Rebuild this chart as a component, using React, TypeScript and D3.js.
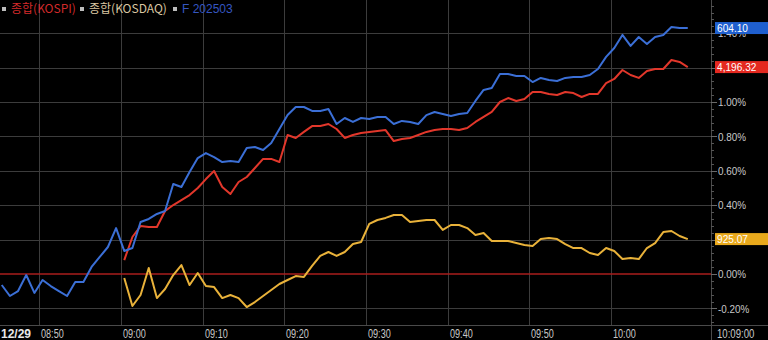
import React from 'react';
import * as d3 from 'd3';

const W = 768;
const H = 340;

// minutes relative to 09:00
const FUT_START = -15;
const IDX_START = 0;

// % change series (per minute)
const FUT = [
  -0.064, -0.128, -0.099, -0.006, -0.11, -0.035, -0.07, -0.099, -0.128, -0.047,
  -0.047, 0.041, 0.099, 0.157, 0.267,
  0.134, 0.151, 0.302, 0.32, 0.349, 0.366, 0.523, 0.506, 0.593, 0.674,
  0.703, 0.68, 0.651, 0.657, 0.651, 0.733, 0.738, 0.721, 0.762, 0.843,
  0.924, 0.971, 0.971, 0.948, 0.948, 0.959, 0.872, 0.907, 0.884, 0.907,
  0.901, 0.913, 0.913, 0.872, 0.89, 0.884, 0.872, 0.924, 0.942, 0.93,
  0.919, 0.93, 0.936, 1.006, 1.07, 1.081, 1.163, 1.163, 1.151, 1.151,
  1.116, 1.14, 1.128, 1.122, 1.14, 1.145, 1.145, 1.157, 1.192, 1.262,
  1.314, 1.39, 1.326, 1.378, 1.337, 1.378, 1.39, 1.436, 1.43, 1.43,
];

const KOSPI = [
  0.081, 0.215, 0.279, 0.273, 0.273, 0.366, 0.401, 0.43, 0.459, 0.5,
  0.552, 0.599, 0.506, 0.465, 0.535, 0.564, 0.616, 0.669, 0.669, 0.651,
  0.808, 0.791, 0.826, 0.86, 0.86, 0.872, 0.843, 0.791, 0.808, 0.82,
  0.826, 0.831, 0.837, 0.773, 0.785, 0.791, 0.808, 0.826, 0.837, 0.843,
  0.843, 0.837, 0.849, 0.884, 0.913, 0.942, 1.0, 1.023, 1.006, 1.017,
  1.058, 1.058, 1.047, 1.041, 1.058, 1.052, 1.029, 1.047, 1.047, 1.11,
  1.134, 1.186, 1.157, 1.14, 1.18, 1.192, 1.192, 1.244, 1.233, 1.203,
];

const KOSDAQ = [
  -0.023, -0.186, -0.122, 0.035, -0.14, -0.087, -0.006, 0.052, -0.064, 0.006,
  -0.07, -0.076, -0.14, -0.122, -0.14, -0.192, -0.163, -0.128, -0.093, -0.058,
  -0.035, -0.012, -0.017, 0.047, 0.105, 0.128, 0.105, 0.128, 0.174, 0.186,
  0.291, 0.314, 0.326, 0.343, 0.343, 0.302, 0.308, 0.314, 0.314, 0.256,
  0.285, 0.285, 0.267, 0.227, 0.238, 0.192, 0.192, 0.192, 0.18, 0.169,
  0.163, 0.203, 0.209, 0.203, 0.174, 0.151, 0.151, 0.122, 0.11, 0.151,
  0.134, 0.087, 0.093, 0.087, 0.151, 0.18, 0.244, 0.25, 0.221, 0.203,
];

const X_TICKS = [-10, 0, 10, 20, 30, 40, 50, 60];
const X_TICK_LABELS = ['08:50', '09:00', '09:10', '09:20', '09:30', '09:40', '09:50', '10:00'];
const Y_TICKS = [-0.2, 0, 0.2, 0.4, 0.6, 0.8, 1.0, 1.2, 1.4];
const Y_TICK_LABELS = ['-0.20%', '0.00%', '0.20%', '0.40%', '0.60%', '0.80%', '1.00%', '1.20%', '1.40%'];
const DATE_LABEL = '12/29';
const END_LABEL = '10:09:00';

const SERIES_NAMES = ['종합(KOSPI)', '종합(KOSDAQ)', 'F 202503'];
const LAST_PRICES = ['4,196.32', '925.07', '604.10'];

const LINE_COLORS = ['#e2372b', '#e9b23a', '#3b6fd6'];
const BOX_COLORS = ['#e4281f', '#e9a91c', '#1f5fcf'];
const LEGEND_COLORS = ['#d22a2a', '#d9c6a0', '#3556c0'];

const PLOT_RIGHT = 711;
const PLOT_BOTTOM = 325;
const POINT_SHIFT = 0.4;

const FONT = "'Liberation Sans', Arial, sans-serif";
const KFONT = "'Noto Sans CJK KR', 'Noto Sans', sans-serif";

function NText(props: {
  x: number;
  y: number;
  s: number;
  size: number;
  fill: string;
  dy?: string;
  weight?: string;
  family?: string;
  children: React.ReactNode;
}) {
  return (
    <text
      transform={`translate(${props.x},${props.y}) scale(${props.s},1)`}
      dy={props.dy}
      fill={props.fill}
      fontSize={props.size}
      fontWeight={props.weight}
      fontFamily={props.family || FONT}
    >
      {props.children}
    </text>
  );
}

export default function App() {
  React.useEffect(() => {
    document.body.style.margin = '0';
    document.body.style.background = '#000';
  }, []);

  const x = d3.scaleLinear().domain([-10, 60]).range([39.3, 611]);
  const y = d3.scaleLinear().domain([0, 1]).range([274, 102]);

  const mk = (vals: number[], start: number) =>
    vals.map((v, i) => [x(start + i + POINT_SHIFT), y(v)] as [number, number]);

  const line = d3.line<[number, number]>();
  const series = [
    { pts: mk(KOSPI, IDX_START), vals: KOSPI },
    { pts: mk(KOSDAQ, IDX_START), vals: KOSDAQ },
    { pts: mk(FUT, FUT_START), vals: FUT },
  ];

  const minorTicks = d3.range(-0.28, 1.62, 0.04);
  const legendX = [2, 80, 173];

  return (
    <svg width={W} height={H} style={{ position: 'fixed', left: 0, top: 0, background: '#000', display: 'block' }}>
      <rect x={0} y={0} width={W} height={H} fill="#000" />
      {/* horizontal grid */}
      {Y_TICKS.filter((t) => t !== 0).map((t) => (
        <line key={'h' + t} x1={0} x2={PLOT_RIGHT} y1={Math.round(y(t)) + 0.5} y2={Math.round(y(t)) + 0.5} stroke="#3c3c3c" strokeWidth={1} />
      ))}
      {/* vertical grid */}
      {X_TICKS.map((t) => (
        <line key={'v' + t} x1={Math.round(x(t)) + 0.5} x2={Math.round(x(t)) + 0.5} y1={0} y2={PLOT_BOTTOM} stroke="#3c3c3c" strokeWidth={1} />
      ))}
      {/* zero line */}
      <line x1={0} x2={PLOT_RIGHT} y1={y(0)} y2={y(0)} stroke="#a81e1c" strokeWidth={1.4} />
      {/* axes */}
      <line x1={0} x2={W} y1={PLOT_BOTTOM + 0.5} y2={PLOT_BOTTOM + 0.5} stroke="#4a4a4a" strokeWidth={1} />
      <line x1={PLOT_RIGHT + 0.5} x2={PLOT_RIGHT + 0.5} y1={0} y2={H} stroke="#4a4a4a" strokeWidth={1} />
      {minorTicks.map((t, i) => (
        <line key={'m' + i} x1={PLOT_RIGHT} x2={PLOT_RIGHT + 3} y1={Math.round(y(t)) + 0.5} y2={Math.round(y(t)) + 0.5} stroke="#555" />
      ))}
      {Y_TICKS.map((t) => (
        <line key={'M' + t} x1={PLOT_RIGHT} x2={PLOT_RIGHT + 6} y1={Math.round(y(t)) + 0.5} y2={Math.round(y(t)) + 0.5} stroke="#6a6a6a" />
      ))}

      {/* lines */}
      <path d={line(series[1].pts) || ''} fill="none" stroke={LINE_COLORS[1]} strokeWidth={2} strokeLinejoin="round" />
      <path d={line(series[0].pts) || ''} fill="none" stroke={LINE_COLORS[0]} strokeWidth={2} strokeLinejoin="round" />
      <path d={line(series[2].pts) || ''} fill="none" stroke={LINE_COLORS[2]} strokeWidth={2} strokeLinejoin="round" />

      {/* y tick labels */}
      {Y_TICKS.map((t, i) => (
        <NText key={'yl' + t} x={718} y={y(t)} dy="0.36em" s={0.86} size={11.5} fill="#c8c8c8">
          {Y_TICK_LABELS[i]}
        </NText>
      ))}

      {/* last value boxes */}
      {series.map((s, i) => {
        const yy = y(s.vals[s.vals.length - 1]);
        return (
          <g key={'b' + i}>
            <rect x={715} y={yy - 6} width={W - 715} height={12} fill={BOX_COLORS[i]} />
            <NText x={717} y={yy} dy="0.36em" s={0.88} size={11.5} fill="#fff">
              {LAST_PRICES[i]}
            </NText>
          </g>
        );
      })}

      {/* x labels */}
      <text x={1} y={338} fill="#e8e8e8" fontSize={12} fontWeight="bold" fontFamily={FONT}>
        {DATE_LABEL}
      </text>
      {X_TICKS.map((t, i) => (
        <NText key={'xl' + t} x={Math.round(x(t)) + 2} y={338} s={0.7} size={13} fill="#c8c8c8">
          {X_TICK_LABELS[i]}
        </NText>
      ))}
      <NText x={717} y={338} s={0.74} size={13} fill="#c8c8c8">
        {END_LABEL}
      </NText>

      {/* legend */}
      {SERIES_NAMES.map((n, i) => (
        <g key={'lg' + i}>
          <rect x={legendX[i]} y={7} width={4} height={4} fill="#bdbdbd" />
          <text x={legendX[i] + 9} y={8.5} dy="0.36em" fill={LEGEND_COLORS[i]} fontSize={12} fontFamily={i === 2 ? FONT : KFONT}>
            {n}
          </text>
        </g>
      ))}
    </svg>
  );
}
